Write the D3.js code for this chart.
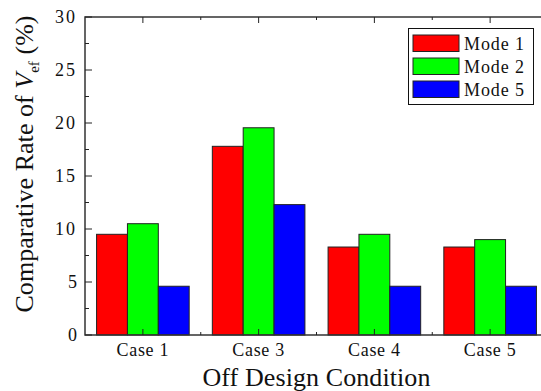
<!DOCTYPE html>
<html>
<head>
<meta charset="utf-8">
<script src="https://cdn.jsdelivr.net/npm/d3@7"></script>
<style>
  body { margin: 0; background: #fff; }
  svg { display: block; }
</style>
</head>
<body>
<svg id="chart" width="541" height="391" font-family="Liberation Serif, serif"></svg>
<script>
const cases = ["Case 1", "Case 3", "Case 4", "Case 5"];
const modes = ["Mode 1", "Mode 2", "Mode 5"];
const mode1 = [9.5, 17.8, 8.3, 8.3];
const mode2 = [10.5, 19.55, 9.5, 9.0];
const mode5 = [4.6, 12.3, 4.6, 4.6];
const yTicks = [0, 5, 10, 15, 20, 25, 30];

const colors = ["#ff0000", "#00ff00", "#0000ff"];
const series = [mode1, mode2, mode5];

const plotLeft = 85, plotRight = 548, plotTop = 17, plotBottom = 335;

const svg = d3.select("#chart");

// stretch a text horizontally (letter-spacing) to a target width
function spread(sel, target) {
  sel.each(function () {
    const n = this.textContent.length;
    const w = this.getComputedTextLength();
    if (w < target && n > 1) d3.select(this).attr("letter-spacing", (target - w) / (n - 1));
  });
}

const x0 = d3.scaleBand()
  .domain(cases)
  .range([plotLeft, plotRight])
  .paddingInner(0.2)
  .paddingOuter(0.1);

const x1 = d3.scaleBand()
  .domain(modes)
  .range([0, x0.bandwidth()]);

const y = d3.scaleLinear()
  .domain([0, 30])
  .range([plotBottom, plotTop]);

// bars
const groups = svg.append("g")
  .selectAll("g")
  .data(cases)
  .join("g")
  .attr("transform", d => `translate(${x0(d)},0)`);

groups.selectAll("rect")
  .data((c, i) => modes.map((m, j) => ({mode: m, value: series[j][i], color: colors[j]})))
  .join("rect")
  .attr("x", d => x1(d.mode))
  .attr("y", d => y(d.value))
  .attr("width", x1.bandwidth())
  .attr("height", d => plotBottom - y(d.value))
  .attr("fill", d => d.color)
  .attr("stroke", "#222")
  .attr("stroke-width", 1);

// axes frame
const step = x0.step();
const centers = cases.map(c => x0(c) + x0.bandwidth() / 2);
const bounds = cases.slice(1).map(c => x0(c) - (step - x0.bandwidth()) / 2);
const minorY = d3.range(2.5, 30, 5);

svg.append("rect")
  .attr("x", plotLeft).attr("y", plotTop)
  .attr("width", plotRight - plotLeft).attr("height", plotBottom - plotTop)
  .attr("fill", "none").attr("stroke", "#333").attr("stroke-width", 1.5);

const tickG = svg.append("g").attr("stroke", "#222").attr("stroke-width", 1);
yTicks.forEach(v => {
  tickG.append("line").attr("x1", plotLeft).attr("x2", plotLeft + 7).attr("y1", y(v)).attr("y2", y(v));
});
minorY.forEach(v => {
  tickG.append("line").attr("x1", plotLeft).attr("x2", plotLeft + 4).attr("y1", y(v)).attr("y2", y(v));
});
centers.forEach(cx => {
  tickG.append("line").attr("x1", cx).attr("x2", cx).attr("y1", plotBottom).attr("y2", plotBottom - 6);
  tickG.append("line").attr("x1", cx).attr("x2", cx).attr("y1", plotTop).attr("y2", plotTop + 6);
});
bounds.forEach(bx => {
  tickG.append("line").attr("x1", bx).attr("x2", bx).attr("y1", plotBottom).attr("y2", plotBottom - 3);
  tickG.append("line").attr("x1", bx).attr("x2", bx).attr("y1", plotTop).attr("y2", plotTop + 3);
});

// y tick labels
svg.append("g").selectAll("text")
  .data(yTicks)
  .join("text")
  .attr("x", plotLeft - 8)
  .attr("y", d => y(d))
  .attr("dy", "0.35em")
  .attr("text-anchor", "end")
  .attr("font-size", 18)
  .attr("fill", "#111")
  .text(d => d)
  .call(spread, 20);

// x tick labels
svg.append("g").selectAll("text")
  .data(cases)
  .join("text")
  .attr("x", (d, i) => centers[i])
  .attr("y", 356)
  .attr("text-anchor", "middle")
  .attr("font-size", 18)
  .attr("fill", "#111")
  .text(d => d)
  .call(spread, 52);

// axis titles
svg.append("text")
  .attr("x", (plotLeft + plotRight) / 2)
  .attr("y", 386)
  .attr("text-anchor", "middle")
  .attr("font-size", 26)
  .attr("fill", "#111")
  .text("Off Design Condition")
  .call(spread, 228);

const yt = svg.append("text")
  .attr("transform", "translate(33,164) rotate(-90)")
  .attr("text-anchor", "middle")
  .attr("font-size", 26)
  .attr("fill", "#111");
yt.append("tspan").text("Comparative Rate of ");
yt.append("tspan").attr("font-style", "italic").text("V");
yt.append("tspan").attr("font-size", 15).attr("dy", 6).text("ef");
yt.append("tspan").attr("dy", -6).text(" (%)");
yt.call(spread, 297);

// legend
const lg = svg.append("g");
lg.append("rect")
  .attr("x", 408.5).attr("y", 28.5)
  .attr("width", 125).attr("height", 76)
  .attr("fill", "#fff").attr("stroke", "#111").attr("stroke-width", 1);
modes.forEach((m, i) => {
  lg.append("rect")
    .attr("x", 413).attr("y", 35 + i * 23)
    .attr("width", 46).attr("height", 16.5)
    .attr("fill", colors[i]).attr("stroke", "#222").attr("stroke-width", 1);
  lg.append("text")
    .attr("x", 464).attr("y", 50 + i * 23)
    .attr("font-size", 18)
    .attr("fill", "#111")
    .text(m)
    .call(spread, 60);
});
</script>
</body>
</html>
